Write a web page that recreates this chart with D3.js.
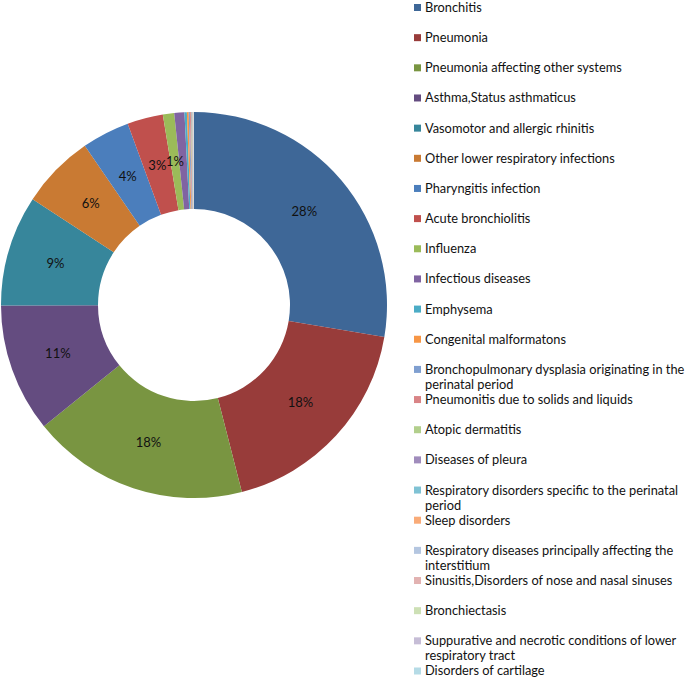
<!DOCTYPE html>
<html>
<head>
<meta charset="utf-8">
<script src="https://cdn.jsdelivr.net/npm/d3@7"></script>
<style>
  html, body { margin: 0; padding: 0; background: #fff; }
  svg { display: block; font-family: Lato, "Open Sans", sans-serif; }
</style>
</head>
<body>
<svg id="chart" width="685" height="679"></svg>
<script>
const categories = [
  "Bronchitis",
  "Pneumonia",
  "Pneumonia affecting other systems",
  "Asthma,Status asthmaticus",
  "Vasomotor and allergic rhinitis",
  "Other lower respiratory infections",
  "Pharyngitis infection",
  "Acute bronchiolitis",
  "Influenza",
  "Infectious diseases",
  "Emphysema",
  "Congenital malformatons",
  "Bronchopulmonary dysplasia originating in the perinatal period",
  "Pneumonitis due to solids and liquids",
  "Atopic dermatitis",
  "Diseases of pleura",
  "Respiratory disorders specific to the perinatal period",
  "Sleep disorders",
  "Respiratory diseases principally affecting the interstitium",
  "Sinusitis,Disorders of nose and nasal sinuses",
  "Bronchiectasis",
  "Suppurative and necrotic conditions of lower respiratory tract",
  "Disorders of cartilage"
];
const values = [
  27.7, 18.4, 18.2, 10.8, 9.3, 6.2, 4.0, 3.0, 0.95, 0.85,
  0.2, 0.15, 0.1, 0.08, 0.05, 0.04, 0.04, 0.03, 0.03, 0.02, 0.02, 0.02, 0.01
];
const colors = [
  "#3e6797", "#983c3a", "#799541", "#644c80", "#37869b", "#c97a33",
  "#4b7ebc", "#c0504d", "#9bbb59", "#8064a2", "#4bacc6", "#f79646",
  "#7f9fd0", "#d98486", "#b2cf8c", "#a08cbc", "#7fc2d4", "#f9ab78",
  "#b4c6e0", "#e2b2b1", "#cde0b5", "#c6bdd6", "#b5dbe6"
];

const data = categories.map((name, i) => ({ name, value: values[i], color: colors[i] }));

const svg = d3.select("#chart");

// Donut
const cx = 194, cy = 305, outerR = 193, innerR = 96;
const total = d3.sum(values);

const pie = d3.pie()
  .value(d => d.value)
  .sort(null);

const arc = d3.arc()
  .innerRadius(innerR)
  .outerRadius(outerR);

const g = svg.append("g")
  .attr("transform", `translate(${cx},${cy})`);

const arcs = pie(data);

g.selectAll("path")
  .data(arcs)
  .join("path")
  .attr("fill", d => d.data.color)
  .attr("d", arc);

// Percent labels, only for the bigger slices
g.selectAll("text")
  .data(arcs.filter(d => d.data.value / total >= 0.009))
  .join("text")
  .attr("transform", d => `translate(${arc.centroid(d)})`)
  .attr("text-anchor", "middle")
  .attr("dy", "0.35em")
  .attr("font-size", "13px")
  .attr("fill", "#111")
  .text(d => d3.format(".0%")(d.data.value / total));

// Legend
const y = d3.scalePoint()
  .domain(categories)
  .range([7.5, 671]);

const legend = svg.append("g");
const maxW = 262;

const item = legend.selectAll("g")
  .data(data)
  .join("g")
  .attr("transform", d => `translate(414,${y(d.name)})`);

item.append("rect")
  .attr("x", 0)
  .attr("y", -3.5)
  .attr("width", 7)
  .attr("height", 7)
  .attr("fill", d => d.color);

item.append("text")
  .attr("x", 11)
  .attr("font-size", "12.8px")
  .attr("fill", "#111")
  .each(function(d) {
    // simple word wrap
    const text = d3.select(this);
    const words = d.name.split(" ");
    let line = [];
    let tspan = text.append("tspan").attr("x", 11).attr("dy", "0.35em");
    for (const w of words) {
      line.push(w);
      tspan.text(line.join(" "));
      if (tspan.node().getComputedTextLength() > maxW && line.length > 1) {
        line.pop();
        tspan.text(line.join(" "));
        line = [w];
        tspan = text.append("tspan").attr("x", 11).attr("dy", "15px").text(w);
      }
    }
  });
</script>
</body>
</html>
